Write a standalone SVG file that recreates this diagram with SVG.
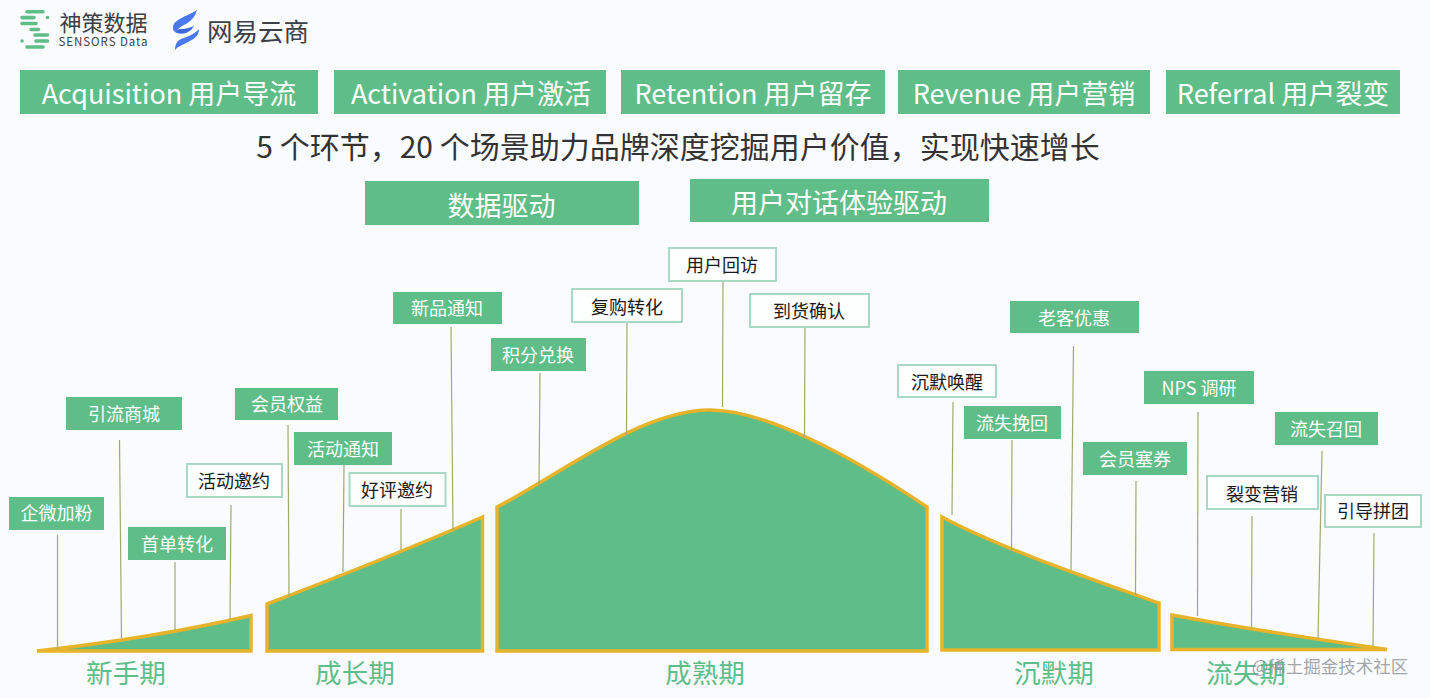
<svg xmlns="http://www.w3.org/2000/svg" width="1430" height="698" viewBox="0 0 1430 698">
<style>
text{font-family:"Noto Sans CJK SC","Noto Sans",sans-serif;text-anchor:middle}
.g{fill:#5fbd88}
.o{fill:#fdfefe;stroke:#a9d9c5;stroke-width:2}
.bar{font-size:27px;fill:#fff}
.w{font-size:18px;fill:#fff}
.k{font-size:18px;fill:#1a1a1a}
.stage{fill:#5fbd88;stroke:#e6b32b;stroke-width:3.500;stroke-linejoin:miter}
.phase{font-size:26.600px;fill:#5fbd8a}
#connectors line{stroke:#9eab6e;stroke-width:1.200}
.lg{stroke:#5fbd88;stroke-width:3.600;stroke-linecap:round;fill:none}
</style>
<rect width="1430" height="698" fill="#fafbfc"/>
<g id="logo-sensors">
<path class="lg" d="M27 11.800H43M22 17.600H34M22 23.500H36M31 29.500H38.500M35 35H47.500M36 41H47.500M27 47H43"/>
<circle cx="47.500" cy="17.500" r="1.800" fill="#5fbd88"/><circle cx="22" cy="41" r="1.800" fill="#5fbd88"/>
<text x="103.500" y="30.500" style="font-size:22px;fill:#3b3f46">神策数据</text>
<text x="103.500" y="46" style="font-size:11.500px;fill:#3b3f46;letter-spacing:.95px">SENSORS Data</text>
</g>
<g id="logo-netease">
<path d="M197 10C186 17 174 19 173 27C172.500 30 174 32 177 33C177 28 182 26 186 24C191 21 195 17 197 10Z" fill="#4a78ee"/>
<path d="M177 33C183 35 190 33 194 26C191 27 186 29 181 29C178 29 176 31 177 33Z" fill="#3f68dd"/>
<path d="M199 29C199 36 194 39 188 42C183 45 178 46 175 50C175 44 177 41 181 39C186 37 194 35 199 29Z" fill="#4a78ee"/>
<text x="258" y="41" style="font-size:25.500px;fill:#3b3f46">网易云商</text>
</g>
<g id="bar-acquisition"><rect class="g" x="20" y="70" width="298" height="44"/><text class="bar" x="169" y="104">Acquisition 用户导流</text></g>
<g id="bar-activation"><rect class="g" x="334" y="70" width="272" height="44"/><text class="bar" x="471" y="104">Activation 用户激活</text></g>
<g id="bar-retention"><rect class="g" x="621" y="70" width="264" height="44"/><text class="bar" x="753" y="104">Retention 用户留存</text></g>
<g id="bar-revenue"><rect class="g" x="898" y="70" width="252" height="44"/><text class="bar" x="1024" y="104">Revenue 用户营销</text></g>
<g id="bar-referral"><rect class="g" x="1166" y="70" width="234" height="44"/><text class="bar" x="1283" y="104">Referral 用户裂变</text></g>
<text id="title" x="678" y="158" style="font-size:30px;fill:#333">5 个环节，20 个场景助力品牌深度挖掘用户价值，实现快速增长</text>
<g id="bar-data"><rect class="g" x="365" y="181" width="274" height="44"/><text class="bar" x="501.500" y="216">数据驱动</text></g>
<g id="bar-dialog"><rect class="g" x="690" y="179" width="299" height="43"/><text class="bar" x="839" y="213">用户对话体验驱动</text></g>
<g id="stages">
<path class="stage" d="M37 651C100 644 180 632 251 615.500V651Z"/>
<path class="stage" d="M267 604C330 580 400 553 482.500 517V651H267Z"/>
<path class="stage" d="M497 507C560 475 640 410 710 410C765 410 850 455 927 507V651H497Z"/>
<path class="stage" d="M942 517C1000 548 1085 577 1159 603V650H942Z"/>
<path class="stage" d="M1172 615C1215 623 1300 637 1387 649.500H1172Z"/>
</g>
<g id="connectors">
<line x1="57.500" y1="535" x2="57.500" y2="649"/>
<line x1="119.500" y1="440" x2="121.500" y2="638"/>
<line x1="175" y1="562" x2="175" y2="630"/>
<line x1="231" y1="505" x2="230" y2="619"/>
<line x1="288" y1="425" x2="289" y2="596"/>
<line x1="344" y1="465" x2="343" y2="572"/>
<line x1="401" y1="509" x2="401" y2="550"/>
<line x1="451" y1="327" x2="453" y2="530"/>
<line x1="540" y1="373" x2="539" y2="487"/>
<line x1="627" y1="322" x2="626.500" y2="435"/>
<line x1="723" y1="281" x2="722.500" y2="407"/>
<line x1="805" y1="324" x2="804.500" y2="437"/>
<line x1="953" y1="402" x2="952" y2="515"/>
<line x1="1012" y1="440" x2="1011.500" y2="550"/>
<line x1="1073.500" y1="346" x2="1071" y2="570"/>
<line x1="1136" y1="481" x2="1135.500" y2="595"/>
<line x1="1198" y1="412" x2="1197.500" y2="616"/>
<line x1="1252" y1="516" x2="1251.500" y2="628"/>
<line x1="1322" y1="451" x2="1318" y2="638"/>
<line x1="1374" y1="533" x2="1373" y2="646"/>
</g>
<g id="n1"><rect class="g" x="9" y="497" width="95" height="33"/><text class="w" x="56.500" y="520">企微加粉</text></g>
<g id="n2"><rect class="g" x="66" y="397" width="116" height="33"/><text class="w" x="124" y="421">引流商城</text></g>
<g id="n3"><rect class="g" x="128" y="527" width="98" height="33"/><text class="w" x="177" y="551">首单转化</text></g>
<g id="n4"><rect class="o" x="187" y="464" width="95" height="33"/><text class="k" x="234" y="488">活动邀约</text></g>
<g id="n5"><rect class="g" x="235" y="388" width="103" height="32"/><text class="w" x="287" y="411">会员权益</text></g>
<g id="n6"><rect class="g" x="294" y="432" width="98" height="33"/><text class="w" x="343" y="456">活动通知</text></g>
<g id="n7"><rect class="o" x="349.500" y="473" width="96" height="33"/><text class="k" x="397" y="497">好评邀约</text></g>
<g id="n8"><rect class="g" x="393" y="292" width="109" height="32"/><text class="w" x="447" y="315">新品通知</text></g>
<g id="n9"><rect class="g" x="491" y="338" width="95" height="33"/><text class="w" x="538" y="362">积分兑换</text></g>
<g id="n10"><rect class="o" x="572" y="289" width="110" height="33"/><text class="k" x="627" y="314">复购转化</text></g>
<g id="n11"><rect class="o" x="669" y="248" width="107" height="33"/><text class="k" x="722" y="272">用户回访</text></g>
<g id="n12"><rect class="o" x="750" y="294" width="119" height="33"/><text class="k" x="809" y="318">到货确认</text></g>
<g id="n13"><rect class="o" x="898" y="365" width="98" height="32"/><text class="k" x="947" y="389">沉默唤醒</text></g>
<g id="n14"><rect class="g" x="964" y="406" width="97" height="33"/><text class="w" x="1012" y="430">流失挽回</text></g>
<g id="n15"><rect class="g" x="1010" y="301" width="129" height="32"/><text class="w" x="1074" y="325">老客优惠</text></g>
<g id="n16"><rect class="g" x="1083" y="442" width="104" height="33"/><text class="w" x="1135" y="466">会员塞券</text></g>
<g id="n17"><rect class="g" x="1144" y="371" width="110" height="33"/><text class="w" x="1199" y="395">NPS 调研</text></g>
<g id="n18"><rect class="g" x="1275" y="412" width="103" height="33"/><text class="w" x="1326" y="436">流失召回</text></g>
<g id="n19"><rect class="o" x="1207" y="476" width="111" height="33"/><text class="k" x="1262" y="501">裂变营销</text></g>
<g id="n20"><rect class="o" x="1325" y="495" width="96" height="32"/><text class="k" x="1373" y="518">引导拼团</text></g>
<g id="phases">
<text class="phase" x="126" y="683">新手期</text>
<text class="phase" x="355" y="683">成长期</text>
<text class="phase" x="705" y="683">成熟期</text>
<text class="phase" x="1054" y="683">沉默期</text>
<text class="phase" x="1246" y="683">流失期</text>
</g>
<text id="watermark" x="1330" y="673" style="font-size:17.500px;fill:#8a8f94;fill-opacity:.8">@稀土掘金技术社区</text>
</svg>
